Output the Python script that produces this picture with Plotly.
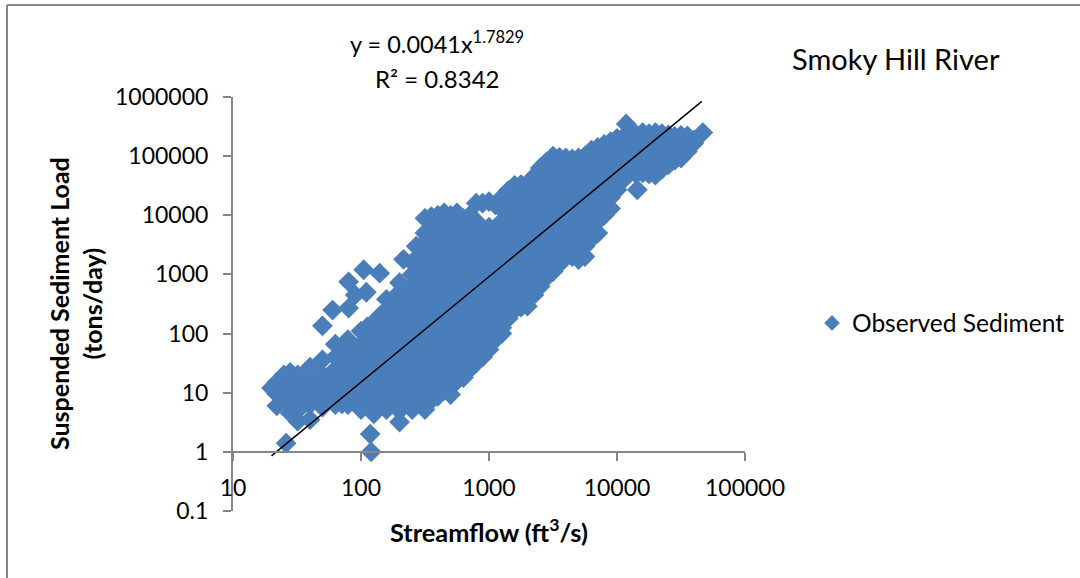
import plotly.graph_objects as go

flow_columns = [20, 22, 25, 28, 32, 40, 50, 63, 79, 100, 126, 158, 200, 251, 316, 398, 501, 631, 794, 1000,
                1259, 1585, 1995, 2512, 3162, 3981, 5012, 6310, 7943, 10000, 12589, 15849, 19953, 25119,
                31623, 39811, 46800]
load_columns = [
    [12],
    [6, 9.5, 15],
    [8, 12.6, 20],
    [4.5, 6.3, 10, 16, 22],
    [3.3, 5, 7.9, 12.6, 20],
    [3.5, 6.3, 10, 16, 27],
    [5.7, 7.9, 12.6, 20, 36],
    [6.3, 10, 16, 25, 40, 66],
    [6.3, 7.9, 12.6, 20, 32, 50, 79],
    [5.2, 10, 16, 25, 40, 63, 110],
    [4.4, 7.9, 12.6, 20, 32, 50, 79, 126, 155],
    [5.2, 10, 16, 25, 40, 63, 100, 160, 250, 380],
    [3.2, 5, 7.9, 12.6, 20, 32, 50, 79, 126, 200, 320, 500, 725],
    [5.2, 10, 16, 25, 40, 63, 100, 160, 250, 400, 630, 1000, 1600],
    [5.2, 7.9, 12.6, 20, 32, 50, 79, 126, 200, 320, 500, 790, 1260, 2000, 3200, 5000, 8900],
    [8.7, 16, 25, 40, 63, 100, 160, 250, 400, 630, 1000, 1600, 2500, 4000, 6300, 10000],
    [9.3, 12.6, 20, 32, 50, 79, 126, 200, 320, 500, 790, 1260, 2000, 3200, 5000, 7900, 10000],
    [18, 25, 40, 63, 100, 160, 250, 400, 630, 1000, 1600, 2500, 4000, 6300, 8900],
    [32, 50, 79, 126, 200, 320, 500, 790, 1260, 2000, 3200, 5000, 7900, 16000],
    [54, 100, 160, 250, 400, 630, 1000, 1600, 2500, 4000, 6300, 17000],
    [100, 126, 200, 320, 500, 790, 1260, 2000, 3200, 5000, 7900, 12600, 20000],
    [250, 400, 630, 1000, 1600, 2500, 4000, 6300, 10000, 16000, 25000, 32000],
    [290, 500, 790, 1260, 2000, 3200, 5000, 7900, 12600, 20000, 32000],
    [630, 1000, 1600, 2500, 4000, 6300, 10000, 16000, 25000, 40000, 63000],
    [1120, 2000, 3200, 5000, 7900, 12600, 20000, 32000, 50000, 79000, 100000],
    [2140, 4000, 6300, 10000, 16000, 25000, 40000, 63000, 93000],
    [1780, 3200, 5000, 7900, 12600, 20000, 32000, 50000, 79000, 93000],
    [4000, 6300, 10000, 16000, 25000, 40000, 63000, 100000, 126000],
    [10000, 12600, 20000, 32000, 50000, 79000, 126000, 158000],
    [27000, 40000, 63000, 100000, 160000, 200000],
    [54000, 79000, 126000, 200000, 250000],
    [52000, 100000, 160000, 250000],
    [48000, 79000, 126000, 200000, 250000],
    [71000, 100000, 160000, 229000],
    [93000, 126000, 200000, 224000],
    [166000, 186000],
    [250000],
]
fill_flow_columns = [71, 89, 112, 141, 178, 224, 282, 355, 447, 562, 708, 891, 1122, 1412, 1778, 2240, 2820, 3550,
                     4470, 5620, 7080, 8910, 11220, 14125, 17780, 22390, 28180, 35480]
fill_load_columns = [
    [6.5],
    [7],
    [6.5, 80, 130],
    [7, 130, 200],
    [6.5],
    [6.5],
    [6.5, 8],
    [7.5, 10, 14, 20, 30, 5500, 9500],
    [11, 16, 25, 40, 11000],
    [16, 22, 30, 50, 11000],
    [25, 36, 56, 90, 10000],
    [40, 60, 90, 16000],
    [80, 140, 220, 15000],
    [180, 260, 400, 26000],
    [280, 420, 650, 33000],
    [450, 700, 1000, 45000],
    [900, 1400, 80000],
    [1500, 2500, 3500, 95000],
    [2000, 2800, 4500, 90000],
    [2000, 3000, 5000, 8000, 100000],
    [5000, 8000, 12000, 140000],
    [13000, 20000, 30000, 175000],
    [40000, 50000, 80000, 210000],
    [50000, 60000, 230000],
    [50000, 70000, 240000],
    [60000, 90000, 240000],
    [85000, 110000, 215000],
    [120000, 150000, 220000],
]
outlier_flow = [26, 120, 118, 50, 60, 80, 80, 90, 105, 110, 140, 215, 270, 300, 330, 14400, 11800]
outlier_load = [1.4, 1, 2, 135, 250, 270, 750, 450, 1200, 500, 1050, 1800, 3000, 3200, 5500, 27000, 350000]

trend_flow = [20, 46000]
trend_load = [0.856, 845000]

x_ticks = [10, 100, 1000, 10000, 100000]
x_labels = ["10", "100", "1000", "10000", "100000"]
y_ticks = [0.1, 1, 10, 100, 1000, 10000, 100000, 1000000]
y_labels = ["0.1", "1", "10", "100", "1000", "10000", "100000", "1000000"]

flows = ([f for f, col in zip(flow_columns, load_columns) for _ in col]
         + [f for f, col in zip(fill_flow_columns, fill_load_columns) for _ in col] + outlier_flow)
loads = ([v for col in load_columns for v in col]
         + [v for col in fill_load_columns for v in col] + outlier_load)

FONT = "Lato"
L, R, T, B = 233, 745, 97, 511


def px(x):
    return (x - L) / (R - L)


def py(y):
    return (B - y) / (B - T)


fig = go.Figure()
fig.add_trace(go.Scatter(x=flows, y=loads, mode="markers", name="Observed Sediment",
                         marker=dict(symbol="diamond", size=16, color="#4a7ebb", line=dict(width=0)),
                         cliponaxis=False))
fig.add_trace(go.Scatter(x=trend_flow, y=trend_load, mode="lines", showlegend=False,
                         line=dict(color="black", width=1.5), cliponaxis=False))

anns = [
    dict(x=px(437), y=py(42), text="y = 0.0041x<sup>1.7829</sup>", size=23.5),
    dict(x=px(437), y=py(78), text="R² = 0.8342", size=24),
    dict(x=px(895.5), y=py(58), text="Smoky Hill River", size=29),
    dict(x=px(488.5), y=py(530), text="<b>Streamflow (ft<sup>3</sup>/s)</b>", size=25.3),
]
annotations = [dict(xref="paper", yref="paper", x=a["x"], y=a["y"], text=a["text"], showarrow=False,
                    xanchor="center", yanchor="middle", font=dict(family=FONT, size=a["size"], color="black"))
               for a in anns]
annotations.append(dict(xref="paper", yref="paper", x=px(75), y=py(304),
                        text="<b>Suspended Sediment Load<br>(tons/day)</b>", textangle=-90, showarrow=False,
                        xanchor="center", yanchor="middle", font=dict(family=FONT, size=25, color="black")))

fig.update_layout(
    width=1080, height=578, autosize=False,
    margin=dict(l=L, r=1080 - R, t=T, b=578 - B, pad=0),
    paper_bgcolor="white", plot_bgcolor="white",
    font=dict(family=FONT, size=23, color="black"),
    annotations=annotations,
    legend=dict(xref="container", yref="container", x=812 / 1080, y=1 - 323 / 578, xanchor="left",
                yanchor="middle", bgcolor="rgba(0,0,0,0)",
                font=dict(family=FONT, size=24.5), itemwidth=30, itemsizing="constant"),
    shapes=[
        dict(type="line", xref="paper", yref="paper", x0=px(7), x1=px(7), y0=py(5), y1=py(578),
             line=dict(color="#868686", width=2)),
        dict(type="line", xref="paper", yref="paper", x0=px(7), x1=px(1080), y0=py(5), y1=py(5),
             line=dict(color="#868686", width=2)),
    ],
    xaxis=dict(type="log", range=[1, 5], tickvals=x_ticks, ticktext=x_labels, ticks="outside", ticklen=8,
               tickwidth=2, tickcolor="#868686", linecolor="#868686", linewidth=2, showline=True,
               showgrid=False, zeroline=False, anchor="free", position=1 / 7, ticklabelstandoff=8,
               tickangle=0, tickfont=dict(family=FONT, size=23)),
    yaxis=dict(type="log", range=[-1, 6], tickvals=y_ticks, ticktext=y_labels, ticks="outside", ticklen=8,
               tickwidth=2, tickcolor="#868686", linecolor="#868686", linewidth=2, showline=True,
               showgrid=False, zeroline=False, ticklabelstandoff=10, tickfont=dict(family=FONT, size=23)),
)

fig.write_html("out.html", config={"displayModeBar": False}, post_script="document.body.style.margin='0';")
